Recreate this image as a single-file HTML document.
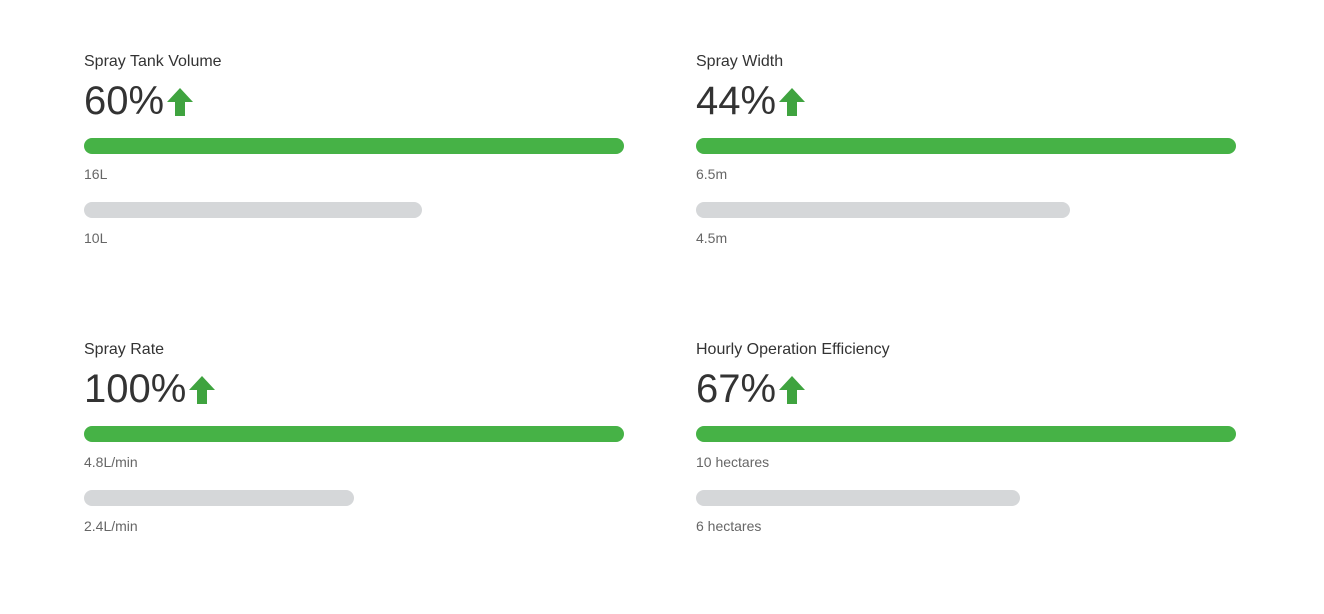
<!DOCTYPE html>
<html><head><meta charset="utf-8"><style>
body{margin:0;width:1324px;height:614px;background:#fff;font-family:"Liberation Sans",sans-serif;position:relative;overflow:hidden}
.card{position:absolute;width:540px}
.t{position:absolute;left:0;top:1px;font-size:16px;color:#333;white-space:nowrap}
.p{position:absolute;left:0;top:29px;font-size:40px;color:#333;line-height:1;white-space:nowrap;display:flex;align-items:flex-start}
.p svg{margin-left:3px;margin-top:7px}
.bar{position:absolute;left:0;height:16px;border-radius:8px}
.lb{position:absolute;left:0;font-size:14px;color:#666;white-space:nowrap}
</style></head><body>
<script>
const titles=["Spray Tank Volume","Spray Width","Spray Rate","Hourly Operation Efficiency"];
const newVals=[16,6.5,4.8,10];
const oldVals=[10,4.5,2.4,6];
const newLabels=["16L","6.5m","4.8L/min","10 hectares"];
const oldLabels=["10L","4.5m","2.4L/min","6 hectares"];
const pos=[[84,52],[696,52],[84,340],[696,340]];
const W=540;
titles.forEach((t,i)=>{
  const c=document.createElement('div');c.className='card';
  
  
  c.style.left=pos[i][0]+'px';c.style.top=pos[i][1]+'px';
  const pct=Math.round((newVals[i]-oldVals[i])/oldVals[i]*100);
  c.innerHTML=`<div class="t">${t}</div>
<div class="p"><span>${pct}%</span><svg width="26" height="28" viewBox="0 0 26 28"><polygon points="13,0 26,14 18,14 18,28 8,28 8,14 0,14" fill="#3fa33f"/></svg></div>
<div class="bar" style="top:86px;background:#46b246;width:${W}px"></div>
<div class="lb" style="top:114px">${newLabels[i]}</div>
<div class="bar" style="top:150px;background:#d5d7d9;width:${W*oldVals[i]/Math.max(newVals[i],oldVals[i])}px"></div>
<div class="lb" style="top:178px">${oldLabels[i]}</div>`;
  c.querySelector('.bar').style.width=(W*newVals[i]/Math.max(newVals[i],oldVals[i]))+'px';
  document.body.appendChild(c);
});
</script>
</body></html>
